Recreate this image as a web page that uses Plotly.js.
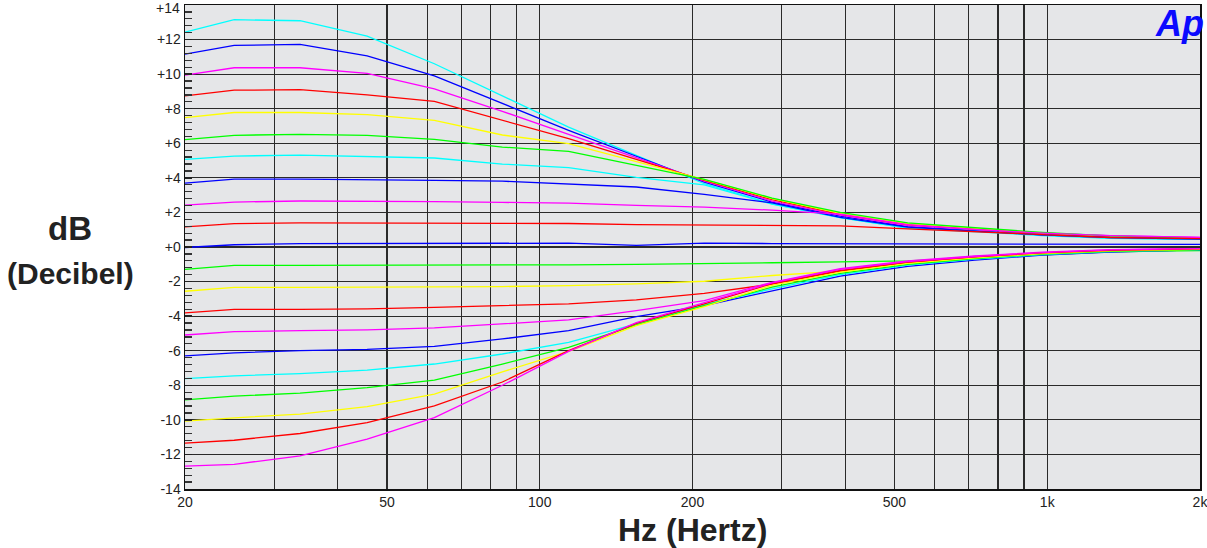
<!DOCTYPE html>
<html>
<head>
<meta charset="utf-8">
<script src="https://cdn.plot.ly/plotly-3.0.1.min.js"></script>
<style>html,body{margin:0;padding:0;background:#fff;}#chart{width:1207px;height:548px;}</style>
</head>
<body>
<div id="chart"></div>
<script>
// Frequencies (Hz) of the measured points
const freqHz = [20, 25, 33.7, 45.7, 62, 84.4, 114, 155, 211, 287, 391, 531, 720, 978, 1330, 1804, 2000];

// Boost curves (dB)
const boost10 = [12.43, 13.15, 13.09, 12.2, 10.6, 8.72, 6.93, 5.3, 3.66, 2.5, 1.7, 1.1, 0.88, 0.66, 0.5, 0.45, 0.44];
const boost9  = [11.16, 11.66, 11.72, 11.06, 9.9, 8.3, 6.75, 5.25, 3.76, 2.6, 1.78, 1.18, 0.93, 0.7, 0.54, 0.48, 0.46];
const boost8  = [9.94, 10.37, 10.37, 10.04, 9.15, 7.85, 6.52, 5.17, 3.81, 2.66, 1.84, 1.24, 1.0, 0.8, 0.66, 0.58, 0.55];
const boost7  = [8.74, 9.07, 9.1, 8.8, 8.42, 7.31, 6.27, 5.07, 3.86, 2.74, 1.9, 1.3, 1.05, 0.78, 0.6, 0.52, 0.5];
const boost6  = [7.49, 7.78, 7.78, 7.66, 7.33, 6.48, 5.98, 4.96, 3.9, 2.8, 1.95, 1.35, 1.08, 0.82, 0.62, 0.53, 0.5];
const boost5  = [6.21, 6.46, 6.52, 6.46, 6.23, 5.78, 5.53, 4.72, 3.91, 2.83, 2.0, 1.4, 1.1, 0.84, 0.64, 0.54, 0.5];
const boost4  = [5.07, 5.26, 5.32, 5.25, 5.15, 4.8, 4.59, 4.03, 3.6, 2.48, 1.7, 1.1, 0.9, 0.68, 0.52, 0.46, 0.44];
const boost3  = [3.70, 3.93, 3.93, 3.91, 3.86, 3.81, 3.66, 3.47, 3.04, 2.55, 1.72, 1.15, 0.92, 0.7, 0.55, 0.48, 0.46];
const boost2  = [2.42, 2.6, 2.66, 2.66, 2.62, 2.58, 2.54, 2.41, 2.31, 2.13, 1.9, 1.3, 1.02, 0.8, 0.66, 0.58, 0.55];
const boost1  = [1.17, 1.35, 1.4, 1.4, 1.4, 1.4, 1.36, 1.3, 1.28, 1.25, 1.22, 1.05, 0.9, 0.72, 0.55, 0.5, 0.48];
// Flat curve (dB)
const flat0   = [-0.03, 0.13, 0.2, 0.2, 0.2, 0.22, 0.22, 0.09, 0.22, 0.2, 0.19, 0.18, 0.17, 0.16, 0.15, 0.15, 0.15];
// Cut curves (dB)
const cut1  = [-1.3, -1.06, -1.06, -1.06, -1.06, -1.03, -1.03, -1.0, -0.97, -0.91, -0.86, -0.8, -0.63, -0.45, -0.28, -0.22, -0.21];
const cut2  = [-2.56, -2.33, -2.33, -2.33, -2.31, -2.29, -2.23, -2.13, -1.98, -1.65, -1.4, -0.9, -0.62, -0.4, -0.25, -0.18, -0.17];
const cut3  = [-3.81, -3.61, -3.61, -3.58, -3.49, -3.39, -3.29, -3.06, -2.68, -2.15, -1.4, -0.9, -0.6, -0.38, -0.22, -0.15, -0.14];
const cut4  = [-5.09, -4.9, -4.84, -4.8, -4.68, -4.45, -4.22, -3.68, -3.1, -2.04, -1.25, -0.8, -0.52, -0.3, -0.16, -0.1, -0.09];
const cut5  = [-6.3, -6.12, -6.0, -5.92, -5.75, -5.32, -4.84, -4.03, -3.39, -2.52, -1.68, -1.12, -0.76, -0.47, -0.3, -0.2, -0.19];
const cut6  = [-7.62, -7.45, -7.32, -7.12, -6.77, -6.19, -5.52, -4.45, -3.33, -2.42, -1.6, -1.05, -0.7, -0.44, -0.27, -0.18, -0.17];
const cut7  = [-8.84, -8.63, -8.45, -8.13, -7.7, -6.77, -5.81, -4.51, -3.39, -2.32, -1.52, -1.0, -0.67, -0.41, -0.25, -0.17, -0.16];
const cut8  = [-10.07, -9.88, -9.67, -9.23, -8.51, -7.22, -6.04, -4.55, -3.45, -2.22, -1.45, -0.95, -0.63, -0.38, -0.22, -0.15, -0.14];
const cut9  = [-11.35, -11.18, -10.79, -10.16, -9.19, -7.81, -6.0, -4.42, -3.29, -2.12, -1.35, -0.88, -0.57, -0.34, -0.19, -0.12, -0.11];
const cut10 = [-12.68, -12.57, -12.09, -11.12, -9.87, -8.0, -6.04, -4.38, -3.22, -2.08, -1.3, -0.85, -0.55, -0.32, -0.17, -0.1, -0.09];

// Tick labels
const xTickVals = [20, 50, 100, 200, 500, 1000, 2000];
const xTickText = ['20', '50', '100', '200', '500', '1k', '2k'];
const xGridVals = [30, 40, 60, 70, 80, 90, 300, 400, 600, 700, 800, 900];
const yTickVals = [-14, -12, -10, -8, -6, -4, -2, 0, 2, 4, 6, 8, 10, 12];
const yTickText = ['-14', '-12', '-10', '-8', '-6', '-4', '-2', '+0', '+2', '+4', '+6', '+8', '+10', '+12'];
const yTopVal = 14;
const yTopText = '+14';

const CY = '#00ffff', BL = '#0000ff', MG = '#ff00ff', RD = '#ff0000', YL = '#ffff00', GR = '#00ff00';
const series = [
  [boost10, CY], [boost9, BL], [boost8, MG], [boost7, RD], [boost6, YL], [boost5, GR],
  [boost4, CY], [boost3, BL], [boost2, MG], [boost1, RD], [flat0, BL],
  [cut1, GR], [cut2, YL], [cut3, RD], [cut4, MG], [cut5, BL], [cut6, CY],
  [cut7, GR], [cut8, YL], [cut9, RD], [cut10, MG]
];

const traces = series.map(([ys, c]) => ({
  x: freqHz, y: ys, type: 'scatter', mode: 'lines',
  line: {color: c, width: 1.3}, hoverinfo: 'skip'
}));

const FONT = 'Liberation Sans, Arial, Helvetica, sans-serif';
const GRID = '#2a2a2a';

const layout = {
  width: 1207, height: 548,
  margin: {l: 185, r: 7, t: 5, b: 59},
  paper_bgcolor: '#ffffff',
  plot_bgcolor: '#e5e6e8',
  showlegend: false,
  font: {family: FONT, size: 14, color: '#222'},
  xaxis: {
    type: 'log',
    range: [Math.log10(20), Math.log10(2000)],
    tickmode: 'array', tickvals: xTickVals, ticktext: xTickText,
    ticks: '', showgrid: true, gridcolor: GRID, gridwidth: 1.2,
    minor: {tickmode: 'array', tickvals: xGridVals, showgrid: true, gridcolor: GRID, gridwidth: 1.2, ticks: ''},
    showline: true, linecolor: '#111', linewidth: 1.5, mirror: true,
    zeroline: false, ticklabeloverflow: 'allow',
    tickfont: {family: FONT, size: 14, color: '#222'}
  },
  yaxis: {
    range: [-14, 14],
    tickmode: 'array', tickvals: yTickVals, ticktext: yTickText,
    ticks: 'inside', ticklen: 7, tickcolor: '#222', tickwidth: 1.3,
    showgrid: true, gridcolor: GRID, gridwidth: 1.2,
    minor: {tickmode: 'linear', tick0: -14, dtick: 0.4, ticks: 'inside', ticklen: 7, tickcolor: '#333', tickwidth: 1.3, showgrid: false},
    showline: true, linecolor: '#111', linewidth: 1.5, mirror: true,
    zeroline: false, ticklabeloverflow: 'allow',
    tickfont: {family: FONT, size: 14, color: '#222'}
  },
  annotations: [
    {xref: 'paper', yref: 'y', x: 0, y: yTopVal, xanchor: 'right', yanchor: 'top', xshift: -3, yshift: 7,
     text: yTopText, showarrow: false, font: {family: FONT, size: 14, color: '#222'}},
    {xref: 'paper', yref: 'paper', x: -0.113, y: 0.539, xanchor: 'center', yanchor: 'middle',
     text: '<b>dB</b>', showarrow: false, font: {family: FONT, size: 33, color: '#222'}},
    {xref: 'paper', yref: 'paper', x: -0.113, y: 0.446, xanchor: 'center', yanchor: 'middle',
     text: '<b>(Decibel)</b>', showarrow: false, font: {family: FONT, size: 30, color: '#222'}},
    {xref: 'paper', yref: 'paper', x: 0.5, y: -0.085, xanchor: 'center', yanchor: 'middle',
     text: '<b>Hz (Hertz)</b>', showarrow: false, font: {family: FONT, size: 32, color: '#222'}},
    {xref: 'paper', yref: 'paper', x: 1.0, y: 0.962, xanchor: 'right', yanchor: 'middle', xshift: 6,
     text: '<b><i>Ap</i></b>', showarrow: false, font: {family: FONT, size: 36, color: '#0a0aff'}}
  ]
};

Plotly.newPlot('chart', traces, layout, {displayModeBar: false, staticPlot: true});
</script>
</body>
</html>
